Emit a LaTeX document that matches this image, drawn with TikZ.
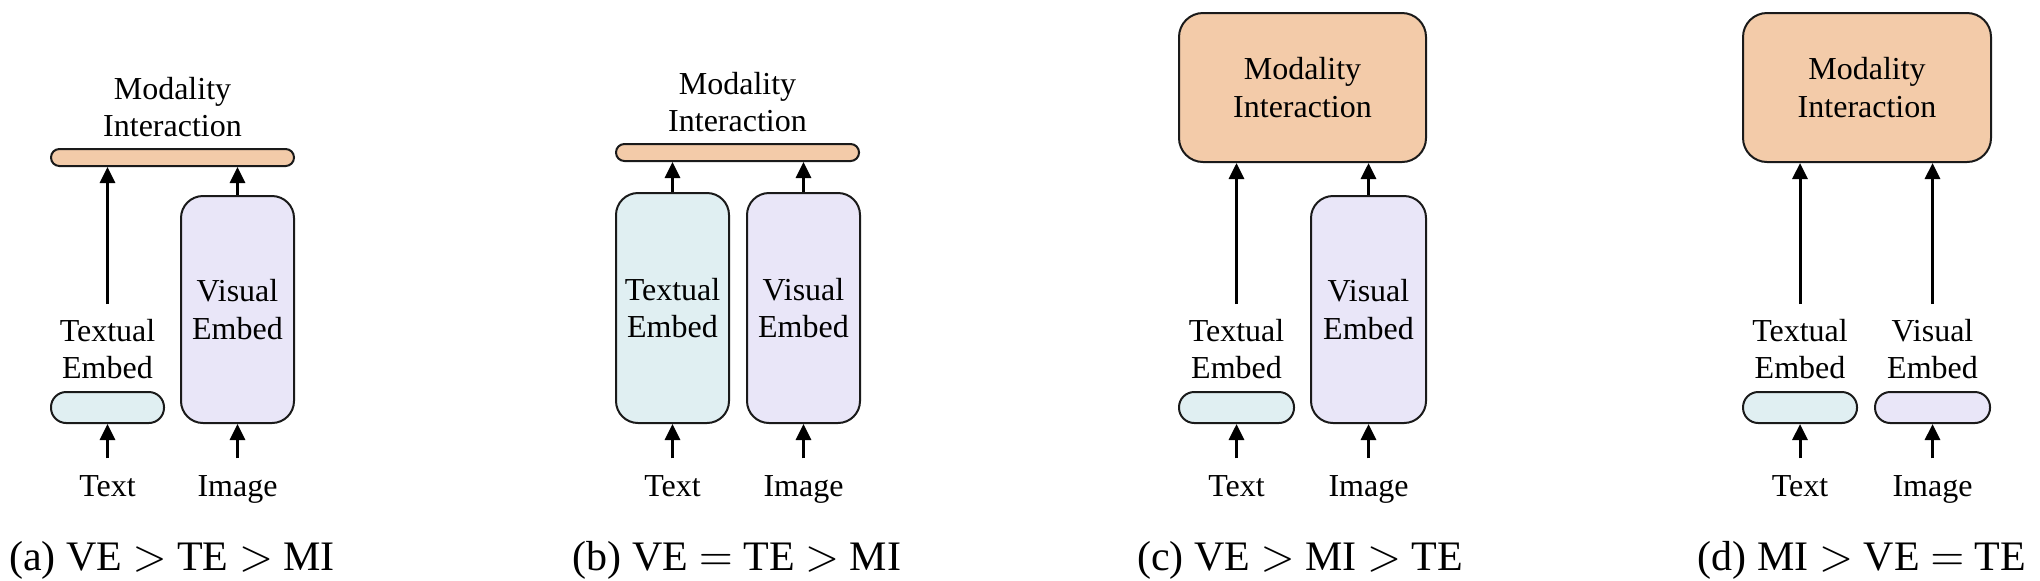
\documentclass[tikz,border=0pt]{standalone}
\usepackage{fontspec}
\setmainfont{Liberation Serif}
\usetikzlibrary{arrows.meta}
\definecolor{mipeach}{HTML}{F3CBA9}
\definecolor{teblue}{HTML}{E0EFF2}
\definecolor{velav}{HTML}{E9E6F8}
\definecolor{edgecol}{HTML}{1A1A1A}
\begin{document}
\begin{tikzpicture}[x=0.25pt,y=-0.25pt,
  lblfont/.style={font=\fontsize{8pt}{9.4pt}\selectfont},
  lbl/.style={lblfont, align=center, inner sep=0pt},
  word/.style={lblfont, anchor=base, inner sep=0pt},
  sz/.style 2 args={minimum width=#1*0.25pt, minimum height=#2*0.25pt},
  shape base/.style={draw=edgecol, line width=0.5pt, inner sep=0pt, lblfont, align=center},
  mibar/.style={shape base, fill=mipeach, rounded corners=2.1pt},
  mibox/.style={shape base, fill=mipeach, rounded corners=6pt},
  tepill/.style={shape base, fill=teblue, rounded corners=3.8pt},
  vepill/.style={shape base, fill=velav, rounded corners=3.8pt},
  tebox/.style={shape base, fill=teblue, rounded corners=5.5pt},
  vebox/.style={shape base, fill=velav, rounded corners=5.5pt},
  arr/.style={-{Triangle[length=4pt,width=3.75pt]}, line width=0.75pt, draw=black},
  captext/.style={font=\fontsize{10.5pt}{12pt}\selectfont, anchor=base, inner sep=0pt},
]
\useasboundingbox (0,0) rectangle (2040,580);

% ---------- (a) ----------
\node[mibar, sz={243}{17}] (a_mi) at (172.5,157.5) {};
\node[lbl] (a_mil) at (172.5,107) {Modality\\Interaction};
\node[tepill, sz={113}{31}] (a_te) at (107.5,407.5) {};
\node[vebox, sz={113}{227}] (a_ve) at (237.5,309.5) {Visual\\Embed};
\node[lbl] (a_tel) at (107.5,349) {Textual\\Embed};
\node[word] (a_txt) at (107.5,496) {Text};
\node[word] (a_img) at (237.5,496) {Image};
\draw[arr] ([yshift=3.5pt]a_tel.north) -- (a_tel.north |- a_mi.south);
\draw[arr] (a_ve.north) -- (a_ve.north |- a_mi.south);
\draw[arr] ([yshift=4pt]a_txt.north) -- (a_txt.north |- a_te.south);
\draw[arr] ([yshift=4pt]a_img.north) -- (a_img.north |- a_ve.south);
\node[captext] (a_cap) at (172,570) {(a) VE $>$ TE $>$ MI};

% ---------- (b) ----------
\node[mibar, sz={243}{17}] (b_mi) at (737.5,152.5) {};
\node[lbl] (b_mil) at (737.5,102) {Modality\\Interaction};
\node[tebox, sz={113}{230}] (b_te) at (672.5,308) {Textual\\Embed};
\node[vebox, sz={113}{230}] (b_ve) at (803.5,308) {Visual\\Embed};
\node[word] (b_txt) at (672.5,496) {Text};
\node[word] (b_img) at (803.5,496) {Image};
\draw[arr] (b_te.north) -- (b_te.north |- b_mi.south);
\draw[arr] (b_ve.north) -- (b_ve.north |- b_mi.south);
\draw[arr] ([yshift=4pt]b_txt.north) -- (b_txt.north |- b_te.south);
\draw[arr] ([yshift=4pt]b_img.north) -- (b_img.north |- b_ve.south);
\node[captext] (b_cap) at (737,570) {(b) VE $=$ TE $>$ MI};

% ---------- (c) ----------
\node[mibox, sz={247}{149}] (c_mi) at (1302.5,87.5) {Modality\\Interaction};
\node[tepill, sz={115}{31}] (c_te) at (1236.5,407.5) {};
\node[vebox, sz={115}{227}] (c_ve) at (1368.5,309.5) {Visual\\Embed};
\node[lbl] (c_tel) at (1236.5,349) {Textual\\Embed};
\node[word] (c_txt) at (1236.5,496) {Text};
\node[word] (c_img) at (1368.5,496) {Image};
\draw[arr] ([yshift=3.5pt]c_tel.north) -- (c_tel.north |- c_mi.south);
\draw[arr] (c_ve.north) -- (c_ve.north |- c_mi.south);
\draw[arr] ([yshift=4pt]c_txt.north) -- (c_txt.north |- c_te.south);
\draw[arr] ([yshift=4pt]c_img.north) -- (c_img.north |- c_ve.south);
\node[captext] (c_cap) at (1300,570) {(c) VE $>$ MI $>$ TE};

% ---------- (d) ----------
\node[mibox, sz={248}{149}] (d_mi) at (1867,87.5) {Modality\\Interaction};
\node[tepill, sz={114}{31}] (d_te) at (1800,407.5) {};
\node[vepill, sz={115}{31}] (d_ve) at (1932.5,407.5) {};
\node[lbl] (d_tel) at (1800,349) {Textual\\Embed};
\node[lbl] (d_vel) at (1932.5,349) {Visual\\Embed};
\node[word] (d_txt) at (1800,496) {Text};
\node[word] (d_img) at (1932.5,496) {Image};
\draw[arr] ([yshift=3.5pt]d_tel.north) -- (d_tel.north |- d_mi.south);
\draw[arr] ([yshift=3.5pt]d_vel.north) -- (d_vel.north |- d_mi.south);
\draw[arr] ([yshift=4pt]d_txt.north) -- (d_txt.north |- d_te.south);
\draw[arr] ([yshift=4pt]d_img.north) -- (d_img.north |- d_ve.south);
\node[captext] (d_cap) at (1862,570) {(d) MI $>$ VE $=$ TE};
\end{tikzpicture}
\end{document}
